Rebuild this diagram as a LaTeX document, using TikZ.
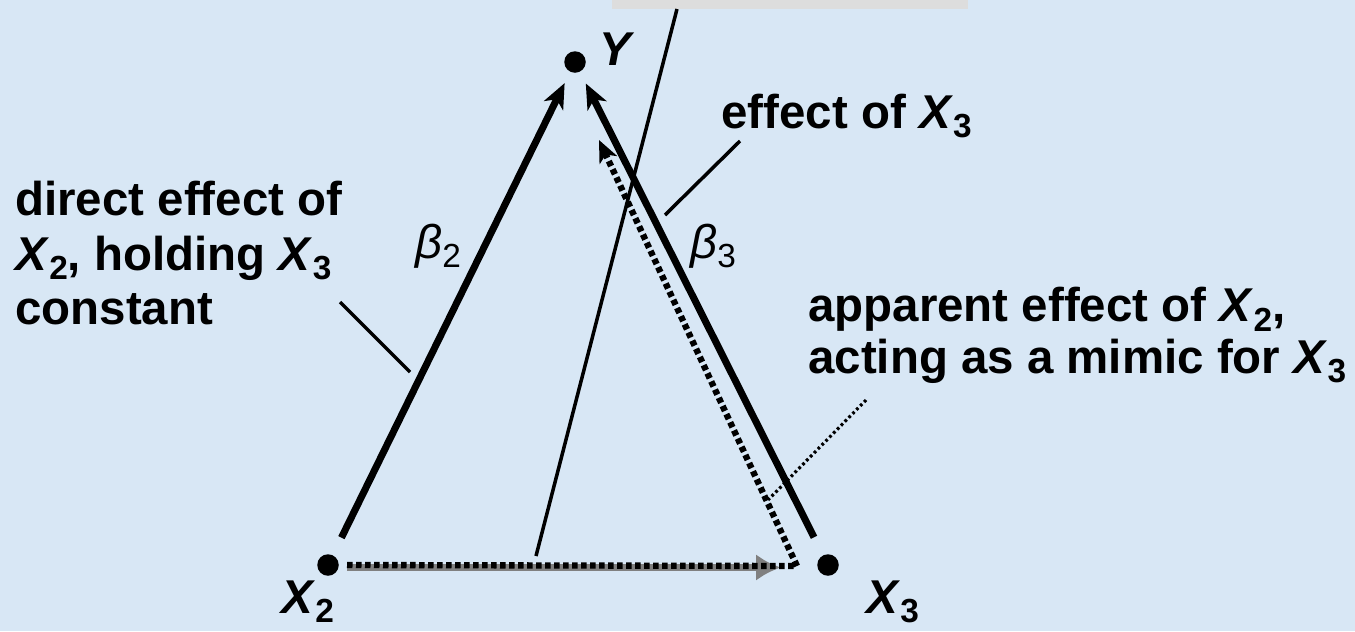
\documentclass[tikz,border=0pt]{standalone}
\usepackage{fontspec}
\setmainfont{Liberation Sans}
\usepackage{xcolor}
\usetikzlibrary{arrows.meta,positioning}
\definecolor{paleblue}{RGB}{216,231,245}
\definecolor{boxgrey}{RGB}{221,221,221}
\newcommand{\lowidx}[1]{\raisebox{-0.2em}{\fontsize{19}{19}\selectfont #1}}
\newcommand{\vsub}[2]{\textit{#1}\lowidx{#2}}

\begin{document}
\begin{tikzpicture}[x=0.2mm, y=-0.2mm,
  font=\fontsize{27}{31}\selectfont\bfseries,
  dot/.style={circle, fill=black, inner sep=0pt, minimum size=4.3mm},
  lbl/.style={inner sep=0pt, anchor=base west},
  txt/.style={inner sep=0pt, anchor=north west, align=left},
  coef/.style={inner sep=0pt, anchor=base west, font=\fontsize{27}{31}\selectfont\mdseries},
  arr/.style={-{Stealth[length=5mm,width=4.2mm,inset=1.4mm]}, line width=4pt},
  mimic/.style={-{Stealth[length=4.4mm,width=3.8mm,inset=1.2mm]}, line width=3.6pt, dash pattern=on 1.1mm off 0.7mm},
  greyarr/.style={-{Latex[length=5mm,width=5.4mm]}, line width=4.4pt, gray},
  pointer/.style={line width=2pt},
  dotptr/.style={line width=1.8pt, dash pattern=on 0.55mm off 0.55mm}]
  \fill[paleblue] (0,0) rectangle (1355,631);
  \useasboundingbox (0,0) rectangle (1355,631);
  \node[fill=boxgrey, minimum width=71.2mm, minimum height=1.8mm, inner sep=0pt] (topbox) at (790,4.5) {};
  % points
  \node[dot] (y)  at (575,62)  {};
  \node[dot] (x2) at (328,565) {};
  \node[dot] (x3) at (828,565) {};
  \node[lbl] (ylab)  at (599,65)  {\textit{Y}};
  \node[lbl] (x2lab) at (281,613) {\vsub{X}{2}};
  \node[lbl] (x3lab) at (866,613) {\vsub{X}{3}};
  \node[coef] (b2) at (415,258) {\textit{β}\lowidx{2}};
  \node[coef] (b3) at (690,258) {\textit{β}\lowidx{3}};
  % labels
  \node[txt] (direct) at (15,181) {direct effect of\\ \vsub{X}{2}, holding \vsub{X}{3}\\ constant};
  \node[lbl] (effect) at (721,128) {effect of \vsub{X}{3}};
  \node[txt, font=\fontsize{27}{29.4}\selectfont\bfseries] (apparent) at (808,287) {apparent effect of \vsub{X}{2},\\ acting as a mimic for \vsub{X}{3}};
  \coordinate (boxfoot)    at (677,9);
  \coordinate (midfoot)    at (536,556);
  \coordinate (directtail) at (340,302);
  \coordinate (directend)  at (410,372);
  \coordinate (effecttail) at (740,141);
  \coordinate (effectend)  at (665,215);
  \coordinate (mimictail)  at (866,400);
  \coordinate (mimicend)   at (768,500);
  \coordinate (corner)     at (797,566);
  \coordinate (mimictip)   at (599,140);
  % connectors
  \draw[pointer] (boxfoot) -- (midfoot);
  \draw[greyarr, shorten <=3.8mm, shorten >=9.4mm] ([yshift=-0.5mm]x2.center) -- ([yshift=-0.5mm]x3.center);
  \draw[mimic] ([xshift=3.8mm]x2.center) -- (corner) -- (mimictip);
  \draw[arr, shorten <=6.1mm, shorten >=4.7mm] (x2.center) -- (y.center);
  \draw[arr, shorten <=6.2mm, shorten >=4.8mm] (x3.center) -- (y.center);
  \draw[pointer] (directtail) -- (directend);
  \draw[pointer] (effecttail) -- (effectend);
  \draw[dotptr] (mimictail) -- (mimicend);
\end{tikzpicture}
\end{document}
